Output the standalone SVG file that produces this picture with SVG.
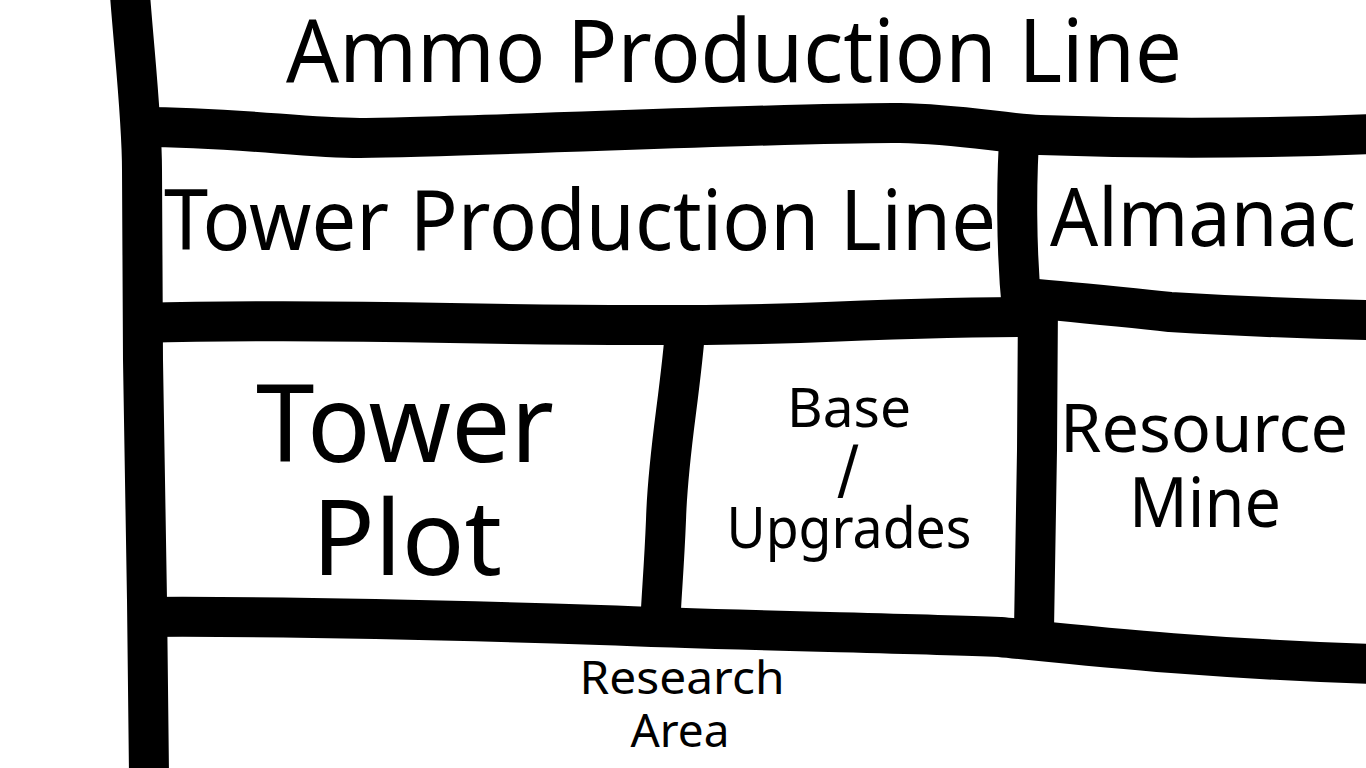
<svg xmlns="http://www.w3.org/2000/svg" width="1366" height="768" viewBox="0 0 1366 768">
<style>
.wall{fill:none;stroke:#000;stroke-width:40;stroke-linejoin:round;stroke-linecap:butt}
.lbl{font-family:"Noto Sans","Liberation Sans",sans-serif;fill:#000;text-anchor:middle}
</style>
<rect x="0" y="0" width="1366" height="768" fill="#fff"/>
<g id="walls">
<path class="wall" d="M130,-5 C135,60 142,120 142,170 L143,360 L147,600 L149,775"/>
<path class="wall" d="M140,127 C240,127 300,138 360,138 C500,136 800,122 900,123 C960,124 1000,133 1040,135 C1150,139 1250,139 1370,134"/>
<path class="wall" d="M140,323 C250,320 350,321 450,323 C600,326 700,326 800,323 C900,319 980,317 1040,317"/>
<path class="wall" d="M1020,298 C1060,300 1100,305 1170,312 C1250,317 1320,319 1370,320"/>
<path class="wall" d="M1020,125 C1016,180 1016,250 1022,310"/>
<path class="wall" d="M1038,300 L1037,450 L1034,630"/>
<path class="wall" d="M686,320 C680,400 668,450 666,520 C664,570 661,600 660,630"/>
<path class="wall" d="M140,617 C300,616 450,620 600,625 C750,631 900,633 1000,637 C1100,647 1200,658 1370,664"/>
</g>
<g id="ammo-production-line">
<text class="lbl" x="734" y="82" font-size="87" textLength="896" lengthAdjust="spacingAndGlyphs">Ammo Production Line</text>
</g>
<g id="tower-production-line">
<text class="lbl" x="580" y="250" font-size="84" textLength="832" lengthAdjust="spacingAndGlyphs">Tower Production Line</text>
</g>
<g id="almanac">
<text class="lbl" x="1203" y="246" font-size="81" textLength="306" lengthAdjust="spacingAndGlyphs">Almanac</text>
</g>
<g id="tower-plot">
<text class="lbl" x="405" y="462" font-size="107" textLength="298" lengthAdjust="spacingAndGlyphs">Tower</text>
<text class="lbl" x="407" y="575" font-size="105" textLength="190" lengthAdjust="spacingAndGlyphs">Plot</text>
</g>
<g id="base-upgrades">
<text class="lbl" x="849" y="427" font-size="55" textLength="124" lengthAdjust="spacingAndGlyphs">Base</text>
<text class="lbl" x="848" y="498" font-size="74" textLength="22" lengthAdjust="spacingAndGlyphs">/</text>
<text class="lbl" x="849" y="548" font-size="56" textLength="245" lengthAdjust="spacingAndGlyphs">Upgrades</text>
</g>
<g id="resource-mine">
<text class="lbl" x="1204" y="452" font-size="67" textLength="288" lengthAdjust="spacingAndGlyphs">Resource</text>
<text class="lbl" x="1205" y="527" font-size="69" textLength="152" lengthAdjust="spacingAndGlyphs">Mine</text>
</g>
<g id="research-area">
<text class="lbl" x="682" y="694" font-size="46" textLength="205" lengthAdjust="spacingAndGlyphs">Research</text>
<text class="lbl" x="680" y="747" font-size="45" textLength="99" lengthAdjust="spacingAndGlyphs">Area</text>
</g>
</svg>
